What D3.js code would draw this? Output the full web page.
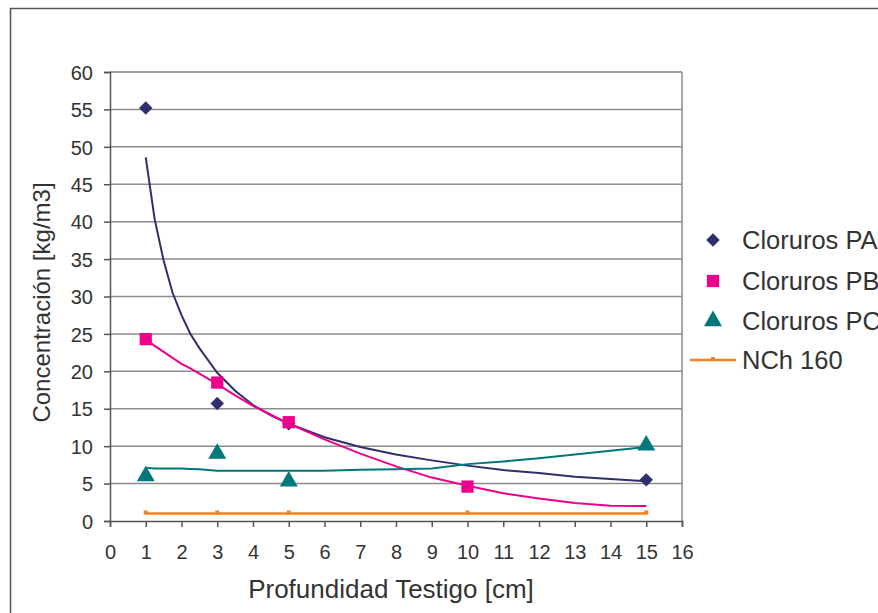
<!DOCTYPE html>
<html>
<head>
<meta charset="utf-8">
<script src="https://cdn.jsdelivr.net/npm/d3@7"></script>
<style>
  body { margin: 0; background: #fff; }
  svg { display: block; font-family: "Liberation Sans", Arial, sans-serif; }
  .tick text { fill: #333; font-size: 20px; }
</style>
</head>
<body>
<script>
// measured points
let depthPA = [1, 3, 5, 15];
let cloPA = [55.2, 15.7, 13.0, 5.5];
let depthPB = [1, 3, 5, 10];
let cloPB = [24.3, 18.5, 13.2, 4.6];
let depthPC = [1, 3, 5, 15];
let cloPC = [6.0, 9.0, 5.3, 10.1];
let depthNCh = [1, 3, 5, 10, 15];
let valNCh = [1.0, 1.0, 1.0, 1.0, 1.0];

// trend lines
let trendX = [1, 1.25, 1.5, 1.75, 2, 2.25, 2.5, 3, 3.5, 4, 4.5, 5, 6, 7, 8, 9, 10, 11, 12, 13, 14, 15];
let trendPA = [48.6, 40.3, 34.8, 30.5, 27.5, 25.0, 23.1, 19.8, 17.4, 15.5, 14.1, 13.0, 11.2, 9.9, 8.9, 8.1, 7.4, 6.8, 6.4, 5.9, 5.6, 5.3];
let trendPB = [24.3, 23.4, 22.6, 21.8, 21.0, 20.4, 19.7, 18.3, 16.8, 15.4, 14.2, 13.0, 10.9, 9.0, 7.3, 5.8, 4.7, 3.7, 3.0, 2.4, 2.05, 2.0];
let trendPC = [7.1, 7.0, 7.0, 7.0, 7.0, 6.95, 6.9, 6.7, 6.7, 6.7, 6.7, 6.7, 6.7, 6.85, 6.9, 7.0, 7.6, 7.95, 8.4, 8.9, 9.4, 9.9];

let xTicks = d3.range(0, 17, 1);
let yTicks = d3.range(0, 61, 5);
let legendLabels = ['Cloruros PA', 'Cloruros PB', 'Cloruros PC', 'NCh 160'];

let colors = {
  pa: '#2f2f6e',
  pb: '#ec008c',
  pc: '#00787a',
  nch: '#f5821f'
};

let width = 878, height = 613;
let plot = { left: 110, right: 682, top: 72, bottom: 521 };

let svg = d3.select('body').append('svg')
    .attr('width', width)
    .attr('height', height);

// outer chart frame (runs off the right and bottom)
svg.append('path')
    .attr('d', 'M10.5,' + (height + 5) + 'V8.5H' + (width + 5))
    .attr('fill', 'none')
    .attr('stroke', '#555')
    .attr('stroke-width', 1.5);

let x = d3.scaleLinear().domain([0, 16]).range([plot.left, plot.right]);
let y = d3.scaleLinear().domain([0, 60]).range([plot.bottom, plot.top]);

// gridlines
svg.append('g')
  .selectAll('line')
  .data(yTicks.filter(function(d){ return d > 0; }))
  .enter().append('line')
    .attr('x1', plot.left).attr('x2', plot.right)
    .attr('y1', function(d){ return y(d); })
    .attr('y2', function(d){ return y(d); })
    .attr('stroke', function(d){ return d === 60 ? '#8a7f7a' : '#8c8c8c'; })
    .attr('stroke-width', 1.5);

// right border of plot area
svg.append('line')
    .attr('x1', plot.right).attr('x2', plot.right)
    .attr('y1', plot.top).attr('y2', plot.bottom)
    .attr('stroke', '#8c8c8c')
    .attr('stroke-width', 1.5);

// axes
let xAxis = d3.axisBottom(x).tickValues(xTicks).tickSize(6).tickPadding(18).tickFormat(d3.format('d'));
let yAxis = d3.axisLeft(y).tickValues(yTicks).tickSize(6).tickPadding(11).tickFormat(d3.format('d'));

let gx = svg.append('g')
    .attr('transform', 'translate(0,' + plot.bottom + ')')
    .call(xAxis);
let gy = svg.append('g')
    .attr('transform', 'translate(' + plot.left + ',0)')
    .call(yAxis);

[gx, gy].forEach(function(g){
  g.select('.domain').attr('stroke', '#555').attr('stroke-width', 1.5);
  g.selectAll('.tick line').attr('stroke', '#555').attr('stroke-width', 1.5);
});
gy.selectAll('.tick text').attr('dy', '0.36em');

// axis titles
svg.append('text')
    .attr('x', (plot.left + plot.right) / 2 - 5)
    .attr('y', 598)
    .attr('text-anchor', 'middle')
    .attr('fill', '#333')
    .attr('font-size', 26)
    .text('Profundidad Testigo [cm]');

svg.append('text')
    .attr('transform', 'translate(50,' + ((plot.top + plot.bottom) / 2 + 6) + ') rotate(-90)')
    .attr('text-anchor', 'middle')
    .attr('fill', '#333')
    .attr('font-size', 24)
    .text('Concentración [kg/m3]');

// trend lines
let line = d3.line()
  .x(function(d){ return x(d[0]); })
  .y(function(d){ return y(d[1]); });

function pairs(xs, ys) {
  return xs.map(function(v, i){ return [v, ys[i]]; });
}

[[trendPA, colors.pa], [trendPB, colors.pb], [trendPC, colors.pc]].forEach(function(t){
  svg.append('path')
      .datum(pairs(trendX, t[0]))
      .attr('fill', 'none')
      .attr('stroke', t[1])
      .attr('stroke-width', 2)
      .attr('d', line);
});

// NCh 160 line
svg.append('path')
    .datum(pairs(depthNCh, valNCh))
    .attr('fill', 'none')
    .attr('stroke', colors.nch)
    .attr('stroke-width', 2.5)
    .attr('d', line);
svg.append('g')
  .selectAll('rect')
  .data(pairs(depthNCh, valNCh))
  .enter().append('rect')
    .attr('x', function(d){ return x(d[0]) - 2; })
    .attr('y', function(d){ return y(d[1]) - 3; })
    .attr('width', 4).attr('height', 4)
    .attr('fill', colors.nch);

// markers
let diamond = d3.symbol().type(d3.symbolDiamond2).size(115);
let square = d3.symbol().type(d3.symbolSquare).size(150);
let triangle = d3.symbol().type(d3.symbolTriangle).size(140);

function drawMarkers(xs, ys, sym, color) {
  svg.append('g')
    .selectAll('path')
    .data(pairs(xs, ys))
    .enter().append('path')
      .attr('transform', function(d){ return 'translate(' + x(d[0]) + ',' + y(d[1]) + ')'; })
      .attr('d', sym)
      .attr('fill', color);
}

drawMarkers(depthPA, cloPA, diamond, colors.pa);
drawMarkers(depthPB, cloPB, square, colors.pb);
drawMarkers(depthPC, cloPC, triangle, colors.pc);

// legend
let legendY = [240, 281, 321, 360];
let legend = svg.append('g');
let syms = [diamond, square, triangle];
let symColors = [colors.pa, colors.pb, colors.pc];

legendLabels.forEach(function(label, i){
  if (i < 3) {
    legend.append('path')
        .attr('transform', 'translate(713,' + legendY[i] + ')')
        .attr('d', syms[i])
        .attr('fill', symColors[i]);
  } else {
    legend.append('line')
        .attr('x1', 690).attr('x2', 736)
        .attr('y1', legendY[i]).attr('y2', legendY[i])
        .attr('stroke', colors.nch)
        .attr('stroke-width', 2.5);
    legend.append('rect')
        .attr('x', 711).attr('y', legendY[i] - 3)
        .attr('width', 4).attr('height', 4)
        .attr('fill', colors.nch);
  }
  legend.append('text')
      .attr('x', 742)
      .attr('y', legendY[i] + 9)
      .attr('fill', '#333')
      .attr('font-size', 25.5)
      .text(label);
});
</script>
</body>
</html>
